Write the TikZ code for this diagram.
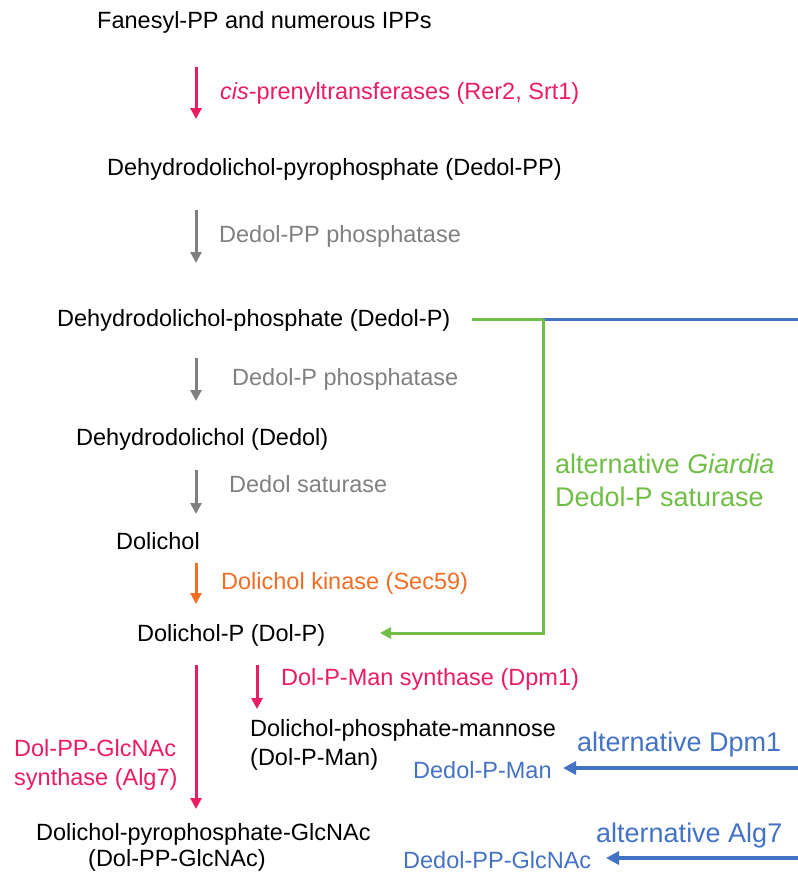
\documentclass[tikz,border=0pt]{standalone}
\usepackage{fontspec}
\setmainfont{Liberation Sans}
\usetikzlibrary{arrows.meta}
\definecolor{pk}{RGB}{236,28,100}
\definecolor{gy}{RGB}{128,128,128}
\definecolor{og}{RGB}{242,108,36}
\definecolor{gn}{RGB}{112,190,70}
\definecolor{bl}{RGB}{68,114,196}
\begin{document}
\begin{tikzpicture}[x=1pt,y=-1pt,
  txt/.style={anchor=base west, inner sep=0pt, font=\fontsize{23.5}{29}\selectfont},
  big/.style={anchor=base west, inner sep=0pt, font=\fontsize{27}{33}\selectfont},
  arr/.style={line width=3pt,-{Triangle[length=11pt,width=11pt]}},
  altarr/.style={line width=3.4pt,-{Triangle[length=13pt,width=13pt]}},
  conn/.style={line width=3pt}]
\useasboundingbox (0,0) rectangle (798,873);

% main chain texts
\node[txt] (fpp) at (97,28) {Fanesyl-PP and numerous IPPs};
\node[txt] (dedolpp) at (107,175) {Dehydrodolichol-pyrophosphate (Dedol-PP)};
\node[txt] (dedolp) at (57,326) {Dehydrodolichol-phosphate (Dedol-P)};
\node[txt] (dedol) at (76,445) {Dehydrodolichol (Dedol)};
\node[txt] (dol) at (116,549) {Dolichol};
\node[txt] (dolp) at (137,641) {Dolichol-P (Dol-P)};
\node[txt] (dpm1) at (250,736) {Dolichol-phosphate-mannose};
\node[txt] (dpm2) at (250,765) {(Dol-P-Man)};
\node[txt] (glc1) at (36,840) {Dolichol-pyrophosphate-GlcNAc};
\node[txt] (glc2) at (88,866) {(Dol-PP-GlcNAc)};

% enzyme labels
\node[txt, text=pk] (e1) at (220,99) {\textit{cis}-prenyltransferases (Rer2, Srt1)};
\node[txt, text=gy] (e2) at (219,242) {Dedol-PP phosphatase};
\node[txt, text=gy] (e3) at (232,385) {Dedol-P phosphatase};
\node[txt, text=gy] (e4) at (229,492) {Dedol saturase};
\node[txt, text=og] (e5) at (221,589) {Dolichol kinase (Sec59)};
\node[txt, text=pk] (e6) at (281,685) {Dol-P-Man synthase (Dpm1)};
\node[txt, text=pk] (e7a) at (14,756) {Dol-PP-GlcNAc};
\node[txt, text=pk] (e7b) at (14,785) {synthase (Alg7)};

% alternative labels
\node[big, text=gn] (g1) at (555,473) {alternative \textit{Giardia}};
\node[big, text=gn] (g2) at (555,506) {Dedol-P saturase};
\node[big, text=bl] (b1) at (577,751) {alternative Dpm1};
\node[txt, text=bl] (b2) at (413,778) {Dedol-P-Man};
\node[big, text=bl] (b3) at (596,842) {alternative Alg7};
\node[txt, text=bl] (b4) at (403,868) {Dedol-PP-GlcNAc};

% arrow coordinates
\coordinate (a1s) at (196,67);  \coordinate (a1e) at (196,119);
\coordinate (a2s) at (196,210); \coordinate (a2e) at (196,263);
\coordinate (a3s) at (196,358); \coordinate (a3e) at (196,401);
\coordinate (a4s) at (196,470); \coordinate (a4e) at (196,514);
\coordinate (a5s) at (196,563); \coordinate (a5e) at (196,604);
\coordinate (a6s) at (257,665); \coordinate (a6e) at (257,709);
\coordinate (a7s) at (196,665); \coordinate (a7e) at (196,809);

\draw[arr, pk] (a1s) -- (a1e);
\draw[arr, gy] (a2s) -- (a2e);
\draw[arr, gy] (a3s) -- (a3e);
\draw[arr, gy] (a4s) -- (a4e);
\draw[arr, og] (a5s) -- (a5e);
\draw[arr, pk] (a6s) -- (a6e);
\draw[arr, pk] (a7s) -- (a7e);

% green/blue branch
\coordinate (gstart) at (472,319);
\coordinate (gjoin) at (543,319);
\coordinate (gcorner) at (543,633);
\coordinate (gend) at (380,633);
\coordinate (bright) at (798,319);
\draw[conn, bl] (gjoin) -- (bright);
\draw[conn, gn] (gstart) -- (gjoin);
\draw[conn, gn, -{Triangle[length=11pt,width=11pt]}] (gjoin) -- (gcorner) -- (gend);

\coordinate (d1s) at (798,768); \coordinate (d1e) at (563,768);
\coordinate (d2s) at (798,858); \coordinate (d2e) at (606,858);
\draw[altarr, bl] (d1s) -- (d1e);
\draw[altarr, bl] (d2s) -- (d2e);
\end{tikzpicture}
\end{document}
